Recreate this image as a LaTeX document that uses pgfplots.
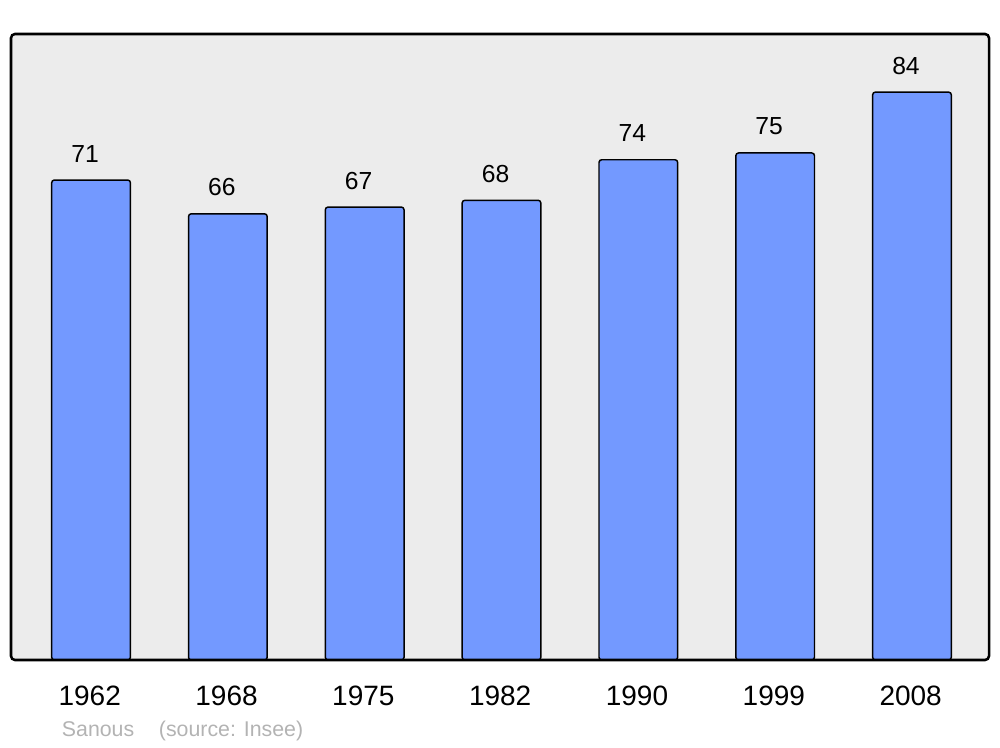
\documentclass[border=0pt]{standalone}
\usepackage{pgfplots}
\pgfplotsset{compat=1.18}
\usepackage{fontspec}
\setmainfont{Liberation Sans}
\definecolor{barfill}{HTML}{7399FF}
\definecolor{bgc}{HTML}{ECECEC}
\definecolor{foot}{HTML}{B3B3B3}
\pgfplotstableread{
x val
0 71
1 66
2 67
3 68
4 74
5 75
6 84
}\pop
\begin{document}
\begin{tikzpicture}
\begin{axis}[
  scale only axis,
  width=733.5pt, height=469.5pt,
  xmin=-0.585, xmax=6.563,
  ymin=0, ymax=92.6,
  axis line style={draw=none},
  axis background/.style={fill=bgc, rounded corners=2.5pt},
  xtick=data,
  xticklabels={1962,1968,1975,1982,1990,1999,2008},
  ytick=\empty,
  major tick length=0pt,
  xticklabel style={anchor=base, yshift=-33.75pt, xshift=-1pt, font=\fontsize{21}{24}\selectfont},
  /pgf/number format/assume math mode=true,
  ybar, bar width=59pt,
  nodes near coords,
  every node near coord/.append style={anchor=base, yshift=13.5pt, xshift=-4.5pt, font=\fontsize{18.5}{22}\selectfont, inner sep=0pt},
  clip=false,
]
\addplot[fill=barfill, draw=black, line width=1.1pt, rounded corners=2pt] table[x=x, y=val] {\pop};
\draw[rounded corners=3pt, line width=1.9pt] (rel axis cs:0,0) rectangle (rel axis cs:1,1);
\coordinate (bl) at (rel axis cs:0,0);
\coordinate (tr) at (rel axis cs:1,1);
\end{axis}
\node[anchor=base west, inner sep=0pt, text=foot, font=\fontsize{16}{19}\selectfont] at ([xshift=38pt, yshift=-57.5pt]bl) {Sanous\hspace{18.5pt}(source: Insee)};
\useasboundingbox ([xshift=-8.25pt, yshift=-65.25pt]bl) rectangle ([xshift=8.25pt, yshift=25.5pt]tr);
\end{tikzpicture}
\end{document}
